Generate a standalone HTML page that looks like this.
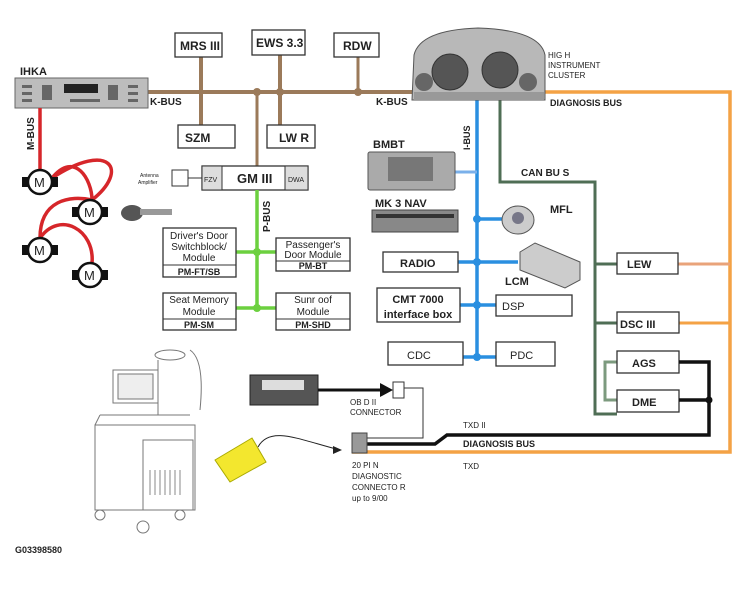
<!DOCTYPE html>
<html><head><meta charset="utf-8"><style>
body{margin:0;background:#fff}
svg{display:block}
text{font-family:"Liberation Sans",sans-serif;fill:#222}
.b{font-weight:bold}
</style></head><body>
<svg width="750" height="596" viewBox="0 0 750 596" xmlns="http://www.w3.org/2000/svg">
<!-- K-BUS -->
<g stroke="#9b7a5a" fill="none">
<line x1="148" y1="92" x2="415" y2="92" stroke-width="4"/>
<line x1="201" y1="57" x2="201" y2="125" stroke-width="4"/>
<line x1="280" y1="55" x2="280" y2="125" stroke-width="4"/>
<line x1="358" y1="57" x2="358" y2="92" stroke-width="3"/>
<line x1="257" y1="92" x2="257" y2="166" stroke-width="3"/>
</g>
<g fill="#9b7a5a"><circle cx="257" cy="92" r="4"/><circle cx="280" cy="92" r="4"/><circle cx="358" cy="92" r="4"/></g>
<!-- boxes top -->
<g fill="#fff" stroke="#333" stroke-width="1.3">
<rect x="175" y="33" width="47" height="24"/><rect x="252" y="30" width="53" height="25"/><rect x="334" y="33" width="45" height="24"/>
<rect x="178" y="125" width="57" height="23"/><rect x="267" y="125" width="48" height="23"/>
</g>
<text x="180" y="50" font-size="12" class="b">MRS  III</text>
<text x="256" y="47" font-size="12" class="b">EWS  3.3</text>
<text x="343" y="50" font-size="12" class="b">RDW</text>
<text x="185" y="142" font-size="12" class="b">SZM</text>
<text x="279" y="142" font-size="12" class="b">LW R</text>
<!-- IHKA -->
<text x="20" y="75" font-size="11" class="b">IHKA</text>
<rect x="15" y="78" width="133" height="30" fill="#bdbdbd" stroke="#666"/>
<rect x="64" y="84" width="34" height="9" fill="#222"/>
<g fill="#666"><rect x="22" y="85" width="10" height="3"/><rect x="22" y="92" width="10" height="3"/><rect x="22" y="99" width="10" height="3"/><rect x="42" y="85" width="10" height="15"/><rect x="108" y="85" width="10" height="15"/><rect x="128" y="85" width="10" height="3"/><rect x="128" y="92" width="10" height="3"/><rect x="128" y="99" width="10" height="3"/><rect x="70" y="99" width="30" height="3"/></g>
<text x="150" y="105" font-size="10" class="b">K-BUS</text>
<text x="376" y="105" font-size="10" class="b">K-BUS</text>
<!-- M-BUS -->
<g stroke="#d6262a" stroke-width="3.5" fill="none">
<line x1="40" y1="108" x2="40" y2="170"/>
<path d="M52,178 C75,150 92,180 92,200"/>
<path d="M52,178 C110,140 130,170 92,200"/>
<path d="M40,238 C40,200 70,195 92,200"/>
<path d="M40,238 C60,210 95,230 92,263"/>
</g>
<text transform="translate(34,150) rotate(-90)" font-size="10" class="b">M-BUS</text>
<g stroke="#111" stroke-width="2.5" fill="#fff">
<circle cx="40" cy="182" r="12"/><circle cx="90" cy="212" r="12"/><circle cx="40" cy="250" r="12"/><circle cx="90" cy="275" r="12"/>
</g>
<g fill="#111"><rect x="22" y="177" width="6" height="10"/><rect x="52" y="177" width="6" height="10"/><rect x="72" y="207" width="6" height="10"/><rect x="102" y="207" width="6" height="10"/><rect x="22" y="245" width="6" height="10"/><rect x="52" y="245" width="6" height="10"/><rect x="72" y="270" width="6" height="10"/><rect x="102" y="270" width="6" height="10"/></g>
<g font-size="13"><text x="34" y="187">M</text><text x="84" y="217">M</text><text x="34" y="255">M</text><text x="84" y="280">M</text></g>
<!-- key -->
<ellipse cx="132" cy="213" rx="11" ry="8" fill="#555"/><rect x="140" y="209" width="32" height="6" fill="#999"/>
<!-- GM III -->
<text x="140" y="177" font-size="5">Antenna</text><text x="138" y="184" font-size="5">Amplifier</text>
<rect x="172" y="170" width="16" height="16" fill="#fff" stroke="#333"/><line x1="188" y1="178" x2="202" y2="178" stroke="#333"/>
<rect x="202" y="166" width="106" height="24" fill="#fff" stroke="#333" stroke-width="1.3"/>
<rect x="202" y="166" width="20" height="24" fill="#ddd" stroke="#333"/><rect x="285" y="166" width="23" height="24" fill="#ddd" stroke="#333"/>
<text x="204" y="182" font-size="7">FZV</text><text x="288" y="182" font-size="7">DWA</text>
<text x="237" y="183" font-size="13" class="b">GM  III</text>
<!-- P-BUS -->
<g stroke="#6cd03f" stroke-width="3.5"><line x1="257" y1="190" x2="257" y2="310"/><line x1="236" y1="252" x2="276" y2="252"/><line x1="236" y1="308" x2="276" y2="308"/></g>
<g fill="#6cd03f"><circle cx="257" cy="252" r="4"/><circle cx="257" cy="308" r="4"/></g>
<text transform="translate(270,232) rotate(-90)" font-size="10" class="b">P-BUS</text>
<g fill="#fff" stroke="#333" stroke-width="1.3">
<rect x="163" y="228" width="73" height="49"/><rect x="276" y="238" width="74" height="33"/><rect x="163" y="293" width="73" height="37"/><rect x="276" y="293" width="74" height="37"/>
</g>
<g stroke="#333"><line x1="163" y1="265" x2="236" y2="265"/><line x1="276" y1="261" x2="350" y2="261"/><line x1="163" y1="319" x2="236" y2="319"/><line x1="276" y1="319" x2="350" y2="319"/></g>
<g font-size="10" text-anchor="middle">
<text x="199" y="239">Driver's  Door</text><text x="199" y="250">Switchblock/</text><text x="199" y="261">Module</text><text x="199" y="275" font-size="9" class="b">PM-FT/SB</text>
<text x="313" y="248">Passenger's</text><text x="313" y="258">Door  Module</text><text x="313" y="269" font-size="9" class="b">PM-BT</text>
<text x="199" y="303">Seat  Memory</text><text x="199" y="315">Module</text><text x="199" y="328" font-size="9" class="b">PM-SM</text>
<text x="313" y="303">Sunr oof</text><text x="313" y="315">Module</text><text x="313" y="328" font-size="9" class="b">PM-SHD</text>
</g>
<!-- orange diagnosis -->
<g stroke="#f4a245" stroke-width="3.5" fill="none">
<polyline points="540,92 730,92 730,452 352,452"/>
</g>
<g stroke="#e9a37a" stroke-width="3"><line x1="678" y1="264" x2="730" y2="264"/></g>
<g stroke="#f4a245" stroke-width="3"><line x1="679" y1="323" x2="730" y2="323"/></g>
<text x="550" y="106" font-size="9" class="b">DIAGNOSIS    BUS</text>
<!-- CAN -->
<g stroke="#4f6e55" stroke-width="3" fill="none">
<polyline points="500,100 500,182 595,182 595,414 617,414"/>
<line x1="595" y1="264" x2="617" y2="264"/><line x1="595" y1="323" x2="617" y2="323"/>
</g>
<polyline points="617,362 605,362 605,400 617,400" stroke="#7c9a7e" stroke-width="3" fill="none"/>
<text x="521" y="176" font-size="10" class="b">CAN  BU S</text>
<!-- I-BUS -->
<g stroke="#2a8fe0" stroke-width="3.5"><line x1="477" y1="98" x2="477" y2="357"/><line x1="477" y1="219" x2="502" y2="219"/><line x1="458" y1="262" x2="518" y2="262"/><line x1="460" y1="305" x2="496" y2="305"/><line x1="463" y1="357" x2="496" y2="357"/></g>
<line x1="455" y1="172" x2="477" y2="172" stroke="#7ab0ea" stroke-width="3"/>
<g fill="#2a8fe0"><circle cx="477" cy="219" r="4"/><circle cx="477" cy="262" r="4"/><circle cx="477" cy="305" r="4"/><circle cx="477" cy="357" r="4"/></g>
<text transform="translate(470,150) rotate(-90)" font-size="9" class="b">I-BUS</text>
<!-- cluster -->
<path d="M412,100 L414,55 Q420,30 478,28 Q540,30 545,55 L545,100 Z" fill="#b8b8b8" stroke="#555"/>
<circle cx="450" cy="72" r="18" fill="#555" stroke="#333"/><circle cx="500" cy="70" r="18" fill="#555" stroke="#333"/>
<circle cx="424" cy="82" r="9" fill="#666"/><circle cx="528" cy="82" r="9" fill="#666"/>
<rect x="414" y="92" width="130" height="8" fill="#999"/>
<g font-size="8" fill="#333"><text x="548" y="58">HIG H</text><text x="548" y="68">INSTRUMENT</text><text x="548" y="78">CLUSTER</text></g>
<!-- BMBT etc -->
<text x="373" y="148" font-size="11" class="b">BMBT</text>
<rect x="368" y="152" width="87" height="38" fill="#aaa" stroke="#555" rx="2"/><rect x="388" y="157" width="45" height="24" fill="#777"/>
<text x="375" y="207" font-size="11" class="b">MK 3 NAV</text>
<rect x="372" y="210" width="86" height="22" fill="#888" stroke="#444"/><rect x="376" y="214" width="78" height="4" fill="#333"/>
<ellipse cx="518" cy="220" rx="16" ry="14" fill="#ccc" stroke="#555"/><circle cx="518" cy="218" r="6" fill="#778"/>
<text x="550" y="213" font-size="11" class="b">MFL</text>
<polygon points="520,252 535,243 580,262 580,280 565,288 520,270" fill="#ccc" stroke="#555"/>
<text x="505" y="285" font-size="11" class="b">LCM</text>
<g fill="#fff" stroke="#333" stroke-width="1.3">
<rect x="383" y="252" width="75" height="20"/><rect x="377" y="288" width="83" height="34"/><rect x="496" y="295" width="76" height="21"/><rect x="388" y="342" width="75" height="23"/><rect x="496" y="342" width="59" height="24"/>
<rect x="617" y="253" width="61" height="21"/><rect x="617" y="312" width="62" height="21"/><rect x="617" y="351" width="62" height="22"/><rect x="617" y="390" width="62" height="22"/>
</g>
<text x="400" y="267" font-size="11" class="b" fill="#333">RADIO</text>
<text x="418" y="303" font-size="11" class="b" text-anchor="middle">CMT  7000</text><text x="418" y="318" font-size="11" class="b" text-anchor="middle">interface   box</text>
<text x="502" y="310" font-size="11" fill="#3a5f8a">DSP</text>
<text x="407" y="359" font-size="11" fill="#3a5f8a">CDC</text>
<text x="510" y="359" font-size="11" fill="#3a5f8a">PDC</text>
<text x="627" y="268" font-size="11" class="b">LEW</text>
<text x="620" y="328" font-size="11" class="b">DSC  III</text>
<text x="632" y="367" font-size="11" class="b">AGS</text>
<text x="632" y="406" font-size="11" class="b">DME</text>
<!-- black TXD II -->
<g stroke="#111" stroke-width="3.5" fill="none">
<polyline points="679,362 709,362 709,435 447,435 435,444 352,444"/>
<line x1="679" y1="400" x2="709" y2="400"/>
</g>
<circle cx="709" cy="400" r="3.5" fill="#111"/>
<text x="463" y="428" font-size="8">TXD  II</text>
<text x="463" y="447" font-size="9" class="b">DIAGNOSIS    BUS</text>
<text x="463" y="469" font-size="8">TXD</text>
<!-- OBD -->
<rect x="250" y="375" width="68" height="30" fill="#555" stroke="#222"/><rect x="262" y="380" width="42" height="10" fill="#ddd"/>
<line x1="318" y1="390" x2="382" y2="390" stroke="#111" stroke-width="3"/><polygon points="380,383 393,390 380,397" fill="#111"/>
<rect x="393" y="382" width="11" height="16" fill="#fff" stroke="#333"/>
<polyline points="404,388 423,388 423,438 358,438" fill="none" stroke="#333"/>
<text x="350" y="405" font-size="8">OB D II</text><text x="350" y="415" font-size="8">CONNECTOR</text>
<rect x="352" y="433" width="15" height="20" fill="#999" stroke="#444"/>
<g font-size="8"><text x="352" y="468">20 PI N</text><text x="352" y="479">DIAGNOSTIC</text><text x="352" y="490">CONNECTO R</text><text x="352" y="501">up to 9/00</text></g>
<!-- yellow -->
<path d="M258,447 C270,425 300,440 340,450" fill="none" stroke="#222"/><polygon points="333,446 342,450 333,454" fill="#222"/>
<polygon points="215,460 252,438 266,462 230,482" fill="#f3e72e" stroke="#aa0"/>
<!-- cart -->
<g fill="none" stroke="#777" stroke-width="1">
<rect x="113" y="370" width="45" height="33"/><rect x="118" y="374" width="35" height="25" fill="#eee"/>
<rect x="95" y="425" width="100" height="85"/><rect x="143" y="440" width="50" height="70"/>
<line x1="100" y1="415" x2="190" y2="415"/><line x1="95" y1="425" x2="100" y2="415"/>
<path d="M158,360 L158,415"/><path d="M190,350 Q205,360 200,410"/><ellipse cx="170" cy="355" rx="15" ry="5"/>
<circle cx="100" cy="515" r="5"/><circle cx="143" cy="527" r="6"/><circle cx="180" cy="515" r="5"/>
</g>
<g stroke="#888">
<line x1="150" y1="470" x2="150" y2="495"/><line x1="155" y1="470" x2="155" y2="495"/><line x1="160" y1="470" x2="160" y2="495"/><line x1="165" y1="470" x2="165" y2="495"/><line x1="170" y1="470" x2="170" y2="495"/><line x1="175" y1="470" x2="175" y2="495"/><line x1="180" y1="470" x2="180" y2="495"/>
</g>
<text x="15" y="553" font-size="9" class="b">G03398580</text>
</svg>
</body></html>
